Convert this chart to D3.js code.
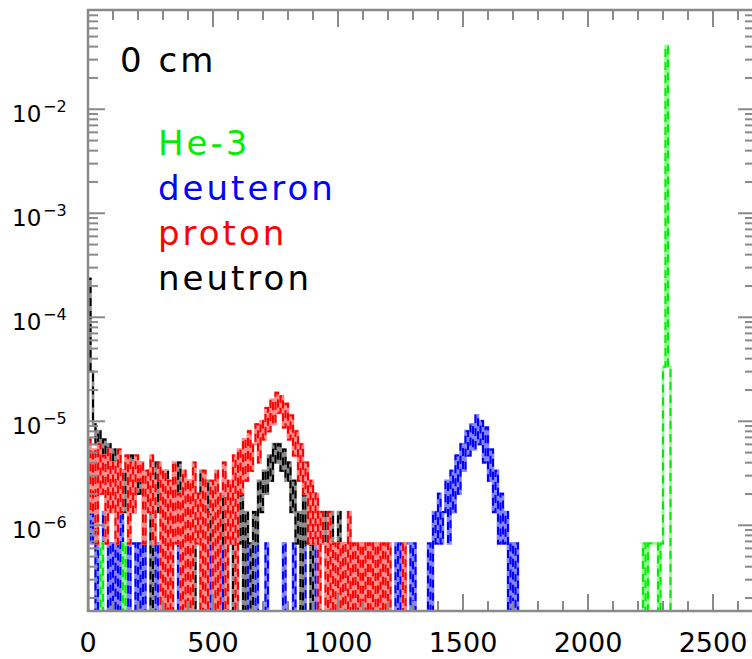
<!DOCTYPE html>
<html>

<head>
  <meta charset="utf-8">
  <title>0 cm spectra</title>
  <script src="https://cdnjs.cloudflare.com/ajax/libs/d3/7.8.5/d3.min.js"></script>
  <style>
    html,
    body {
      margin: 0;
      padding: 0;
      background: #fff;
    }

    svg text {
      font-family: "DejaVu Sans", sans-serif;
    }
  </style>
</head>

<body>
  <svg id="chart" width="752" height="659"></svg>
  <script>
    // histogram bins are 10 units wide, values are counts (1 count = unit)
    let binWidth = 10
    let unit = 6.7e-7

    // counts from 0 upward
    let neutronCounts = [
      350, 45, 14, 9, 12, 7, 10, 6, 9, 5,
      8, 3, 7, 5, 2, 6, 4, 7, 2, 5,
      3, 6, 1, 4, 5, 0, 3, 6, 2, 4,
      1, 5, 3, 0, 4, 2, 6, 1, 3, 0,
      4, 1, 0, 3, 2, 5, 0, 2, 4, 1,
      3, 0, 2, 1, 4, 0, 3, 1, 0, 2,
      1, 3, 0, 2, 1, 0, 2, 1, 4, 2,
      5, 3, 7, 4, 9, 6, 9, 5, 8, 4,
      6, 2, 4, 1, 2, 0, 3, 1, 2, 0,
      3, 1, 2, 2, 1, 2, 0, 2, 1, 0,
      2, 0, 1, 0, 1, 1, 0, 1, 0, 0, 1
    ]

    let protonCounts = [
      10, 2, 8, 1, 9, 3, 7, 1, 8, 2,
      6, 1, 8, 2, 5, 7, 1, 6, 2, 7,
      4, 6, 1, 5, 2, 7, 1, 4, 6, 0,
      5, 0, 4, 0, 6, 1, 3, 0, 5, 0,
      4, 0, 6, 1, 3, 0, 5, 0, 2, 4,
      0, 5, 0, 3, 6, 0, 4, 1, 7, 0,
      8, 3, 10, 4, 12, 5, 9, 14, 6, 15,
      10, 20, 12, 24, 14, 28, 18, 26, 13, 22,
      10, 17, 7, 12, 4, 9, 3, 6, 1, 4,
      1, 3, 0, 2, 1, 0, 2, 0, 1, 0,
      1, 0, 1, 0, 2, 0, 1, 0, 1, 0,
      1, 0, 1, 0, 1, 0, 1, 0, 1, 0, 1, 0, 0, 0, 0, 0, 1
    ]

    let deuteronCounts = [
      3, 1, 2, 0, 1, 0, 2, 1, 0, 1,
      0, 1, 0, 2, 0, 1, 0, 1, 1, 0,
      1, 0, 1, 0, 0, 0, 0, 1, 0, 0,
      0, 1, 0, 0, 0, 0, 1, 0, 0, 0,
      1, 0, 0, 0, 0, 1, 0, 0, 0, 1,
      0, 0, 0, 1, 0, 0, 0, 0, 1, 0,
      0, 0, 0, 1, 0, 0, 0, 1, 0, 0,
      0, 1, 0, 0, 0, 0, 0, 0, 1, 0,
      0, 0, 1, 0, 0, 0, 1, 0, 0, 0,
      0, 1, 0, 0, 0, 0, 1, 0, 0, 0,
      1, 0, 0, 0, 0, 1, 0, 0, 0, 1,
      0, 0, 0, 1, 0, 0, 0, 0, 1, 0,
      0, 0, 0, 1, 0, 1, 0, 1, 1, 0,
      1, 0, 0, 0, 0, 0, 1, 0, 2, 1,
      3, 1, 2, 4, 1, 5, 2, 7, 3, 9,
      5, 12, 7, 14, 8, 17, 9, 15, 6, 13,
      4, 8, 2, 5, 1, 3, 1, 2, 0, 1,
      0, 1, 0
    ]

    // He-3: a few low-energy counts and the main peak
    let he3LowCounts = [0, 0, 0, 0, 0, 1, 0, 0, 0, 0, 0, 0, 0, 0, 1, 0]
    let he3PeakStart = 2220
    let he3PeakCounts = [1, 0, 1, 1, 1, 1, 0, 1, 50, 60000, 50, 0]

    let legendNames = ['He-3', 'deuteron', 'proton', 'neutron']
    let legendColors = ['#00ee00', '#0000ff', '#ff0000', '#000000']
    let xTickValues = [0, 500, 1000, 1500, 2000, 2500]
    let yTickPowers = [-6, -5, -4, -3, -2]

    let plotLeft = 88
    let plotRight = 755
    let plotTop = 10
    let plotBottom = 611
    let axisColor = '#8a8a8a'

    let svg = d3.select('#chart')

    let x = d3.scaleLinear().domain([0, 2668]).range([plotLeft, plotRight])
    let y = d3.scaleLog().domain([1.5e-7, 0.09]).range([plotBottom, plotTop])

    const toBins = (start, counts) => {
      let pts = [{ e: start, v: 0 }]
      counts.forEach((c, i) => pts.push({ e: start + i * binWidth, v: c * unit }))
      pts.push({ e: start + counts.length * binWidth, v: 0 })
      return pts
    }

    // drawing order: deuteron underneath, He-3 on top
    let series = [
      { color: '#0000ff', light: '#8585ff', parts: [toBins(0, deuteronCounts)] },
      { color: '#000000', light: '#8c8c8c', parts: [toBins(0, neutronCounts)] },
      { color: '#ff0000', light: '#ff8a8a', parts: [toBins(0, protonCounts)] },
      { color: '#00ee00', light: '#90ff90', parts: [toBins(0, he3LowCounts), toBins(he3PeakStart, he3PeakCounts)] }
    ]

    svg.append('clipPath').attr('id', 'plot-clip')
      .append('rect')
      .attr('x', plotLeft).attr('y', plotTop)
      .attr('width', plotRight - plotLeft).attr('height', plotBottom - plotTop)

    let line = d3.line()
      .x(d => x(d.e))
      .y(d => d.v > 0 ? y(d.v) : plotBottom + 10)
      .curve(d3.curveStepAfter)

    let plot = svg.append('g').attr('clip-path', 'url(#plot-clip)')

    series.forEach(s => {
      s.parts.forEach(p => {
        plot.append('path')
          .attr('d', line(p))
          .attr('fill', 'none')
          .attr('stroke', s.light)
          .attr('stroke-width', 2.6)
        plot.append('path')
          .attr('d', line(p))
          .attr('fill', 'none')
          .attr('stroke', s.color)
          .attr('stroke-width', 2)
          .attr('stroke-dasharray', '8,5')
      })
    })

    // frame
    svg.append('rect')
      .attr('x', plotLeft).attr('y', plotTop)
      .attr('width', plotRight - plotLeft).attr('height', plotBottom - plotTop)
      .attr('fill', 'none')
      .attr('stroke', axisColor)
      .attr('stroke-width', 2.5)

    let ticks = svg.append('g').attr('stroke', axisColor).attr('stroke-width', 2)

    // x ticks every 100, major every 500
    d3.range(0, 2700, 100).forEach(v => {
      let len = v % 500 === 0 ? 17 : 10
      let px = x(v)
      ticks.append('line').attr('x1', px).attr('x2', px).attr('y1', plotBottom).attr('y2', plotBottom - len)
      ticks.append('line').attr('x1', px).attr('x2', px).attr('y1', plotTop).attr('y2', plotTop + len)
    })

    // y ticks, minor at 2..9 of each decade
    d3.range(-7, -1).forEach(p => {
      d3.range(1, 10).forEach(m => {
        let v = m * Math.pow(10, p)
        if (v < 1.5e-7 || v > 0.09) return
        let len = m === 1 ? 17 : 10
        let py = y(v)
        ticks.append('line').attr('x1', plotLeft).attr('x2', plotLeft + len).attr('y1', py).attr('y2', py)
        ticks.append('line').attr('x1', plotRight).attr('x2', plotRight - len).attr('y1', py).attr('y2', py)
      })
    })

    svg.append('g').selectAll('text')
      .data(xTickValues)
      .join('text')
      .attr('x', d => x(d))
      .attr('y', 652)
      .attr('text-anchor', 'middle')
      .attr('font-size', 27)
      .attr('fill', '#000')
      .text(d => d)

    let yLabels = svg.append('g').selectAll('g')
      .data(yTickPowers)
      .join('g')
      .attr('transform', d => `translate(12,${y(Math.pow(10, d))})`)

    yLabels.append('text')
      .attr('x', 0).attr('y', 13)
      .attr('font-size', 23)
      .attr('fill', '#000')
      .text('10')

    yLabels.append('text')
      .attr('x', 31).attr('y', 3)
      .attr('font-size', 16)
      .attr('fill', '#000')
      .text(d => '\u2212' + Math.abs(d))

    svg.append('text')
      .attr('x', 120).attr('y', 72)
      .attr('font-size', 34)
      .attr('letter-spacing', 3)
      .attr('fill', '#000')
      .text('0 cm')

    svg.append('g').selectAll('text')
      .data(legendNames)
      .join('text')
      .attr('x', 158)
      .attr('y', (d, i) => 155 + i * 45)
      .attr('font-size', 34)
      .attr('letter-spacing', 3)
      .attr('fill', (d, i) => legendColors[i])
      .text(d => d)
  </script>
</body>

</html>
